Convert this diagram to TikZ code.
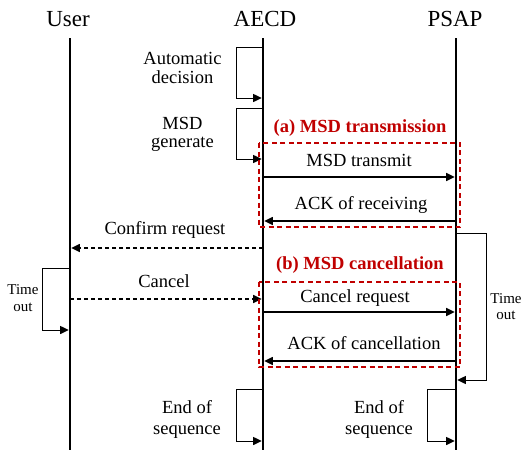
\documentclass[tikz,border=0pt]{standalone}
\usepackage{fontspec}
\setmainfont{Liberation Serif}
\usetikzlibrary{arrows.meta}
\definecolor{boxred}{RGB}{192,0,0}
\begin{document}
\begin{tikzpicture}[x=1pt,y=-1pt,
  head/.style={font=\fontsize{23}{26}\selectfont, inner sep=0, anchor=base},
  lbl/.style={font=\fontsize{18.5}{21}\selectfont, inner sep=0, anchor=base},
  twoline/.style={font=\fontsize{18.5}{#1}\selectfont, inner sep=0, align=center},
  smalllbl/.style={font=\fontsize{15}{#1}\selectfont, inner sep=0, align=center},
  title/.style={font=\fontsize{18.5}{21}\selectfont\bfseries, text=boxred, inner sep=0, anchor=base},
  lifeline/.style={line width=2.6pt},
  tip/.style={-{Triangle[length=8.5pt,width=8pt]}, shorten >=1.3pt},
  loopline/.style={line width=1pt, tip},
  msg/.style={line width=1.1pt, tip},
  dmsg/.style={msg, dash pattern=on 4pt off 3pt},
  group/.style={draw=boxred, line width=1.6pt, dash pattern=on 5pt off 3.5pt},
]
\useasboundingbox (0,0) rectangle (530,450);

% participants
\node[head] (user) at (68,26) {User};
\node[head] (aecd) at (265,26) {AECD};
\node[head] (psap) at (455,26) {PSAP};

% lifelines
\coordinate (uTop) at (70,38);   \coordinate (uBot) at (70,450);
\coordinate (aTop) at (263,38);  \coordinate (aBot) at (263,450);
\coordinate (pTop) at (456,38);  \coordinate (pBot) at (456,450);
\draw[lifeline] (uTop) -- (uBot);
\draw[lifeline] (aTop) -- (aBot);
\draw[lifeline] (pTop) -- (pBot);

% points on the AECD lifeline
\coordinate (a1) at (263,47);   \coordinate (a2) at (263,98);
\coordinate (a3) at (263,108);  \coordinate (a4) at (263,159);
\coordinate (a5) at (263,177);  \coordinate (a6) at (263,221);
\coordinate (a7) at (263,248);  \coordinate (a8) at (263,299);
\coordinate (a9) at (263,312);  \coordinate (a10) at (263,361);
\coordinate (a11) at (263,389); \coordinate (a12) at (263,441);
% points on the PSAP lifeline
\coordinate (p5) at (456,177);  \coordinate (p6) at (456,221);
\coordinate (p7) at (456,233);  \coordinate (p9) at (456,312);
\coordinate (p10) at (456,361); \coordinate (p8) at (456,380);
\coordinate (p11) at (456,389); \coordinate (p12) at (456,441);
% points on the User lifeline
\coordinate (u7) at (70,248);   \coordinate (u1) at (70,268);
\coordinate (u8) at (70,299);   \coordinate (u2) at (70,330);

% self loops on AECD
\draw[loopline] (a1) -- ++(-27,0) |- (a2);
\node[twoline=19] (autodec) at (182.5,67.5) {Automatic\\decision};
\draw[loopline] (a3) -- ++(-27,0) |- (a4);
\node[twoline=18] (msdgen) at (182.5,134) {MSD\\generate};

% (a) MSD transmission
\node[title] (ttla) at (360,132) {(a) MSD transmission};
\draw[group] (259,143) rectangle (460,227);
\draw[msg] (a5) -- (p5);
\node[lbl] (msdtx) at (359,166) {MSD transmit};
\draw[msg] (p6) -- (a6);
\node[lbl] (ackrx) at (361,209) {ACK of receiving};

% confirmation towards the user
\draw[dmsg] (a7) -- (u7);
\node[lbl] (confreq) at (165,234) {Confirm request};

% time-out loops
\draw[loopline] (p7) -- ++(30,0) |- (p8);
\node[smalllbl=16] (pto) at (506,307) {Time\\out};
\draw[loopline] (u1) -- ++(-28,0) |- (u2);
\node[smalllbl=17] (uto) at (23,298.5) {Time\\out};

% (b) MSD cancellation
\node[title] (ttlb) at (360,269) {(b) MSD cancellation};
\draw[dmsg] (u8) -- (a8);
\node[lbl] (cancel) at (164,287) {Cancel};
\draw[group] (259,282) rectangle (460,367);
\draw[msg] (a9) -- (p9);
\node[lbl] (canreq) at (355,302) {Cancel request};
\draw[msg] (p10) -- (a10);
\node[lbl] (ackcan) at (364,349) {ACK of cancellation};

% end of sequence
\draw[loopline] (a11) -- ++(-27,0) |- (a12);
\node[twoline=21] (enda) at (187,419) {End of\\sequence};
\draw[loopline] (p11) -- ++(-29,0) |- (p12);
\node[twoline=21] (endp) at (379,419) {End of\\sequence};
\end{tikzpicture}
\end{document}
